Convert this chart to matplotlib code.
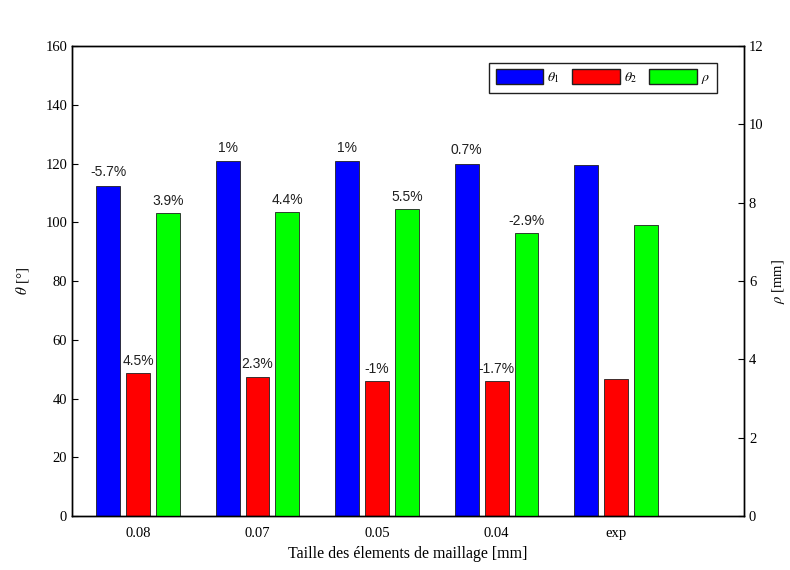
import numpy as np
import matplotlib.pyplot as plt
from matplotlib.patches import Patch

# data
categories = ["0.08", "0.07", "0.05", "0.04", "exp"]
theta1 = [112.5, 120.9, 120.9, 120.0, 119.5]
theta2 = [48.7, 47.5, 46.0, 45.9, 46.6]
rho = [7.74, 7.77, 7.85, 7.22, 7.44]
theta1_err = ["-5.7%", "1%", "1%", "0.7%", ""]
theta2_err = ["4.5%", "2.3%", "-1%", "-1.7%", ""]
rho_err = ["3.9%", "4.4%", "5.5%", "-2.9%", ""]

plt.rcParams['font.family'] = ['Liberation Serif', 'DejaVu Serif']
plt.rcParams['mathtext.fontset'] = 'stix'

fig = plt.figure(figsize=(7.9, 5.7), dpi=100)
ax = fig.add_axes([0.0911, 0.0947, 0.8507, 0.8243])
ax2 = ax.twinx()

x = np.arange(len(categories))
w = 0.2
off = 0.25

b1 = ax.bar(x - off, theta1, w, color='#0000ff', edgecolor='#202020', linewidth=0.6)
b2 = ax.bar(x, theta2, w, color='#ff0000', edgecolor='#202020', linewidth=0.6)
b3 = ax2.bar(x + off, rho, w, color='#00ff00', edgecolor='#202020', linewidth=0.6)

# percent differences above the bars
lblfont = dict(family='Liberation Sans', fontsize=10, color='#202020', ha='center', va='bottom')
for i in range(len(x)):
    if theta1_err[i]:
        ax.text(x[i] - off, theta1[i] + 2.2, theta1_err[i], **lblfont)
    if theta2_err[i]:
        ax.text(x[i], theta2[i] + 1.8, theta2_err[i], **lblfont)
    if rho_err[i]:
        ax2.text(x[i] + off, rho[i] + 0.13, rho_err[i], **lblfont)

ax.set_xlim(-0.552, 5.07)
ax.set_ylim(0, 160)
ax2.set_ylim(0, 12)
ax.set_yticks(np.arange(0, 161, 20))
ax2.set_yticks(np.arange(0, 13, 2))
ax.set_xticks(x)
ax.set_xticklabels(categories)

for a in (ax, ax2):
    a.tick_params(direction='in', labelsize=10.5, length=4, width=0.8)
    for s in a.spines.values():
        s.set_linewidth(1.0)
ax.tick_params(axis='x', length=0, pad=8)

ax.set_xlabel("Taille des élements de maillage [mm]", fontsize=11.5, labelpad=4)
ax.set_ylabel(r"$\theta$ [°]", fontsize=11, labelpad=10)
ax2.set_ylabel(r"$\rho$ [mm]", fontsize=10.5, labelpad=5)

handles = [Patch(facecolor='#0000ff', edgecolor='#202020'),
           Patch(facecolor='#ff0000', edgecolor='#202020'),
           Patch(facecolor='#00ff00', edgecolor='#202020')]
labels = [r"$\theta_1$", r"$\theta_2$", r"$\rho$"]
leg = ax2.legend(handles, labels, loc='upper right', ncol=3, fontsize=10,
                 handlelength=3.4, handleheight=1.2, handletextpad=0.3,
                 columnspacing=0.9, borderpad=0.5, fancybox=False,
                 edgecolor='#202020', framealpha=1, bbox_to_anchor=(0.97, 0.98))
leg.get_frame().set_linewidth(1.0)

fig.savefig("out.png", dpi=100)
